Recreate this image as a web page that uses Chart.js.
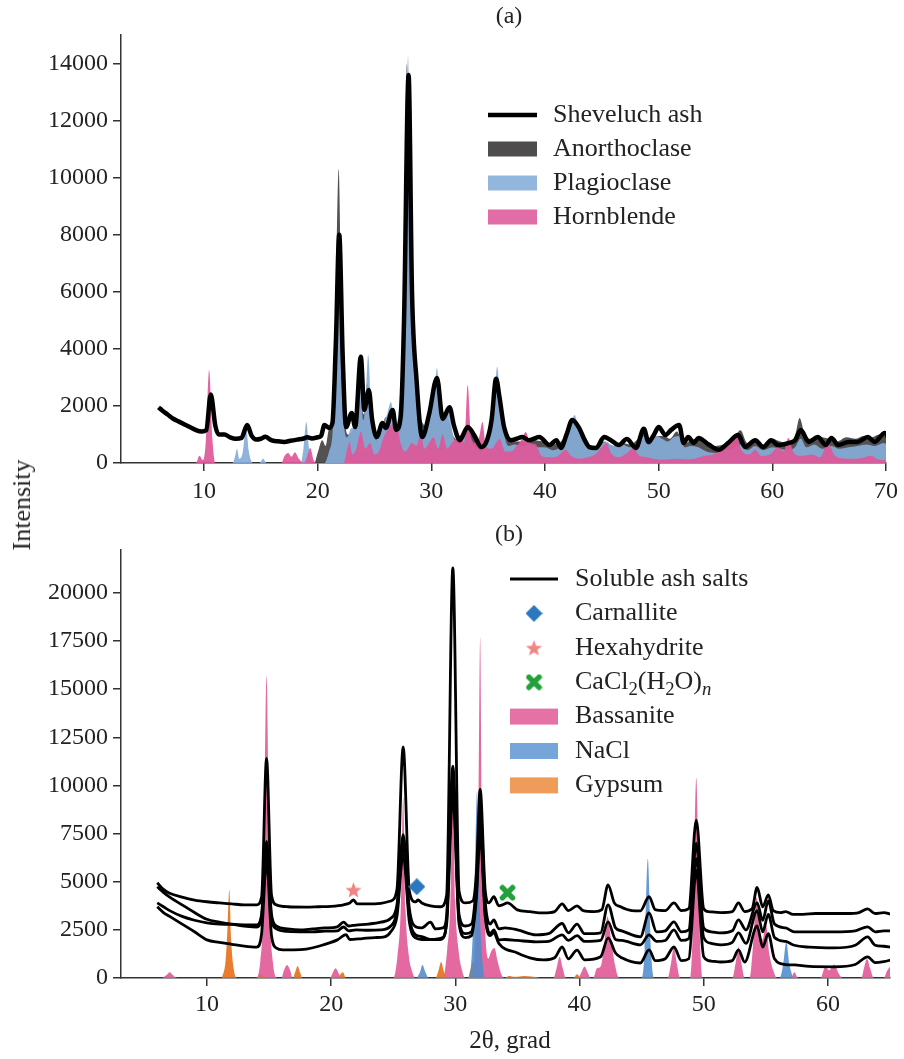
<!DOCTYPE html>
<html lang="en">
<head>
<meta charset="UTF-8">
<title>XRD patterns of Sheveluch ash and soluble salts</title>
<style>
    body {
        margin: 0;
        background: #fff;
        font-family: "Liberation Serif", "Times New Roman", serif;
    }
    .page {
        position: relative;
        width: 904px;
        height: 1059px;
    }
    canvas {
        position: absolute;
        left: 0;
    }
    #chartA { top: 0; }
    #chartB { top: 520px; }
    .lbl {
        position: absolute;
        color: #222;
        line-height: 1;
        white-space: nowrap;
        transform: translateX(-50%);
    }
    #titleA { left: 509px; top: 3px; font-size: 24px; }
    #titleB { left: 509px; top: 521px; font-size: 24px; }
    #xTitle { left: 510px; top: 1027px; font-size: 25px; }
    #yTitle { left: 22px; top: 505px; font-size: 26px; transform: translate(-50%, -50%) rotate(-90deg); }
</style>
</head>
<body>
<div class="page">
    <canvas id="chartA" width="904" height="520"></canvas>
    <canvas id="chartB" width="904" height="539"></canvas>
    <div class="lbl" id="titleA">(a)</div>
    <div class="lbl" id="titleB">(b)</div>
    <div class="lbl" id="xTitle">2θ, grad</div>
    <div class="lbl" id="yTitle">Intensity</div>
</div>

<script src="https://cdn.jsdelivr.net/npm/chart.js"></script>
<script>
// ---- tick labels ----
const thetaTicksA = [10, 20, 30, 40, 50, 60, 70];
const intensityTicksA = [0, 2000, 4000, 6000, 8000, 10000, 12000, 14000];
const thetaTicksB = [10, 20, 30, 40, 50, 60];
const intensityTicksB = [0, 2500, 5000, 7500, 10000, 12500, 15000, 17500, 20000];

// ---- panel (a): [2theta, intensity] ----
const ashPattern = [[6.0,1950],[6.3,1850],[6.8,1700],[7.3,1550],[7.8,1450],[8.3,1350],[8.8,1250],[9.3,1150],[9.8,1100],[10.2,1150],[10.6,2400],[11.0,1300],[11.3,1000],[11.8,1000],[12.3,900],[12.8,850],[13.3,880],[13.8,1330],[14.2,950],[14.6,820],[15.0,850],[15.4,920],[15.9,800],[16.5,760],[17.1,740],[17.6,780],[18.2,820],[18.7,850],[19.1,900],[19.5,860],[20.0,900],[20.3,950],[20.6,1330],[21.0,1230],[21.3,1400],[21.6,4200],[21.9,8000],[22.2,3800],[22.5,1260],[23.0,1750],[23.3,1260],[23.8,3720],[24.1,1860],[24.5,2560],[24.8,1500],[25.2,910],[25.7,1400],[26.0,1230],[26.6,1860],[26.9,1160],[27.3,1600],[27.6,5000],[28.0,13600],[28.3,6000],[28.7,2910],[29.2,910],[29.8,1700],[30.5,2980],[31.0,1550],[31.6,1950],[32.0,1300],[32.5,800],[33.2,1260],[33.8,950],[34.4,560],[34.9,800],[35.3,1500],[35.7,2950],[36.0,2300],[36.4,1260],[37.0,800],[37.5,850],[38.0,910],[38.6,800],[39.5,910],[40.4,630],[41.0,800],[41.4,530],[41.9,1000],[42.4,1510],[43.0,1230],[43.5,800],[43.9,560],[44.5,530],[45.2,910],[45.8,800],[46.5,630],[47.2,840],[48.0,530],[48.7,1200],[49.1,740],[49.6,1000],[50.0,1260],[50.6,980],[51.1,1160],[51.8,1330],[52.2,700],[52.6,910],[53.1,700],[53.5,880],[54.4,650],[55.3,460],[56.1,700],[57.0,980],[57.6,560],[58.5,800],[59.2,560],[59.9,800],[60.5,630],[61.4,700],[62.0,800],[62.5,1160],[63.2,740],[64.0,910],[64.7,630],[65.2,880],[65.8,630],[66.7,740],[67.5,740],[68.4,910],[69.0,740],[69.9,1050],[70.3,800]];

const anorthoclase = [[6.5,0],[19.7,0],[20.0,350],[20.4,800],[20.7,600],[21.0,1200],[21.3,1500],[21.55,5000],[21.85,10300],[22.15,4000],[22.4,1500],[22.7,1000],[23.0,1100],[23.3,1500],[23.6,2800],[23.85,2000],[24.1,1700],[24.35,2800],[24.6,1700],[24.9,1100],[25.3,800],[25.7,1300],[26.0,1600],[26.4,1500],[26.8,1000],[27.2,1500],[27.5,4000],[27.85,14000],[28.2,5000],[28.5,2800],[28.8,1800],[29.1,1500],[29.5,1300],[30.0,1600],[30.4,2600],[30.8,1700],[31.2,1800],[31.6,1400],[32.0,900],[32.5,800],[33.0,1000],[33.5,1100],[34.0,700],[34.5,650],[35.0,800],[35.5,1700],[35.8,2500],[36.1,1400],[36.5,1000],[37.0,750],[37.5,750],[38.2,750],[39.0,800],[39.8,750],[40.5,650],[41.2,700],[41.8,950],[42.3,1300],[42.7,1400],[43.2,950],[43.8,650],[44.5,550],[45.2,750],[46.0,600],[46.8,700],[47.5,650],[48.2,850],[48.6,1000],[49.2,750],[49.8,950],[50.5,950],[51.0,850],[51.6,1100],[52.2,650],[52.8,800],[53.5,850],[54.2,650],[55.0,600],[55.7,650],[56.5,800],[57.2,1150],[57.8,700],[58.5,800],[59.2,650],[60.0,850],[60.7,750],[61.4,700],[62.0,950],[62.4,1580],[62.9,950],[63.5,850],[64.2,900],[65.0,850],[65.7,750],[66.5,900],[67.3,850],[68.0,950],[68.7,900],[69.4,1000],[70.2,900]];

const plagioclase = [[6.5,0],[12.5,0],[12.75,250],[12.9,500],[13.1,150],[13.4,350],[13.7,1250],[13.95,400],[14.3,0],[14.9,0],[15.2,150],[15.5,0],[18.5,0],[18.75,500],[19.0,1440],[19.25,500],[19.6,0],[20.6,0],[21.0,400],[21.3,1000],[21.55,3000],[21.85,6500],[22.1,3000],[22.35,1200],[22.6,900],[22.9,1200],[23.2,1300],[23.5,1800],[23.75,2800],[24.0,1500],[24.2,2000],[24.45,3790],[24.7,1800],[24.95,1000],[25.2,800],[25.5,1200],[25.8,1400],[26.1,1700],[26.45,2140],[26.8,1200],[27.1,1700],[27.4,3500],[27.7,8000],[27.95,14250],[28.2,8000],[28.45,4000],[28.7,2500],[29.0,1300],[29.3,1200],[29.7,1600],[30.0,1900],[30.25,2400],[30.5,3330],[30.75,2000],[31.0,1500],[31.3,1800],[31.6,1700],[31.9,1000],[32.2,700],[32.6,700],[33.0,1000],[33.3,1000],[33.6,700],[34.0,500],[34.4,400],[34.8,700],[35.2,1100],[35.5,2000],[35.8,3370],[36.1,1800],[36.4,1000],[36.8,600],[37.3,650],[38.0,600],[38.6,650],[39.3,550],[40.0,550],[40.7,450],[41.3,550],[41.8,850],[42.2,1200],[42.6,1680],[43.0,1100],[43.5,650],[44.2,450],[44.8,550],[45.3,750],[46.0,600],[46.8,650],[47.5,550],[48.2,700],[48.7,950],[49.2,650],[49.8,950],[50.3,850],[50.8,750],[51.3,900],[51.8,950],[52.3,550],[52.8,600],[53.5,550],[54.2,400],[55.0,350],[55.8,450],[56.5,500],[57.2,650],[57.8,450],[58.5,600],[59.2,450],[60.0,550],[60.7,500],[61.4,450],[62.0,550],[62.5,850],[63.0,550],[63.7,650],[64.4,500],[65.2,600],[65.9,500],[66.7,550],[67.5,600],[68.3,650],[69.0,600],[69.8,700],[70.2,600]];

const hornblende = [[6.5,0],[9.3,0],[9.6,250],[9.9,100],[10.15,700],[10.45,3260],[10.75,800],[11.0,0],[16.8,0],[17.1,250],[17.4,350],[17.7,220],[18.0,380],[18.35,150],[18.8,0],[19.05,200],[19.35,530],[19.65,100],[20.0,0],[22.3,0],[22.55,400],[22.8,740],[23.05,300],[23.4,500],[23.8,1100],[24.2,500],[24.6,700],[25.0,300],[25.4,400],[25.8,900],[26.2,1200],[26.6,1350],[26.95,1400],[27.3,700],[27.7,400],[28.3,700],[28.7,600],[29.05,1050],[29.4,500],[29.8,700],[30.2,900],[30.6,500],[31.0,1000],[31.4,500],[31.8,700],[32.3,900],[32.6,1000],[32.9,700],[33.2,2740],[33.5,900],[33.9,700],[34.2,900],[34.5,1440],[34.8,600],[35.3,500],[35.7,700],[36.0,850],[36.5,400],[37.0,400],[37.5,600],[37.9,800],[38.3,1090],[38.7,700],[39.2,650],[39.6,300],[40.2,200],[40.8,200],[41.3,300],[41.8,460],[42.3,250],[43.0,150],[43.8,200],[44.4,300],[45.0,550],[45.4,700],[45.8,350],[46.5,200],[47.2,350],[47.8,530],[48.3,250],[49.0,200],[49.5,150],[50.5,120],[51.5,150],[52.5,130],[53.2,150],[54.0,250],[54.8,300],[55.5,450],[56.1,650],[56.8,980],[57.3,450],[58.0,300],[58.5,460],[59.0,250],[59.8,300],[60.5,550],[61.0,400],[61.4,880],[61.9,350],[62.5,250],[63.5,300],[64.2,200],[64.9,700],[65.5,250],[66.5,150],[67.5,150],[68.7,250],[69.3,120],[70.2,100]];

// ---- panel (b): four scans of soluble ash salts ----
const saltsScan1 = [[6.0,4950],[6.5,4600],[7,4400],[8,4200],[9,4050],[10,3960],[11,3900],[12,3850],[13,3800],[14,3800],[14.4,4200],[14.8,11400],[15.2,4300],[15.6,3800],[16.5,3700],[18,3680],[19,3700],[20,3720],[21,3800],[21.5,3900],[21.8,4050],[22.1,3850],[23,3850],[24,3880],[24.8,4000],[25.3,4600],[25.8,12000],[26.3,4500],[26.8,3950],[27.0,4050],[27.3,3900],[28.0,3750],[28.8,3700],[29.3,4300],[29.8,21300],[30.3,4500],[30.8,3900],[31.4,4000],[31.7,5500],[32.0,9800],[32.4,4600],[32.7,3900],[33.1,4220],[33.5,3750],[33.8,3800],[34.2,3900],[35.0,3540],[36,3450],[37.1,3380],[38.0,3450],[38.6,3850],[39.1,3500],[39.8,3750],[40.3,3500],[41.2,3450],[41.8,3550],[42.3,4840],[42.8,3900],[43.3,3700],[44.2,3500],[44.9,3490],[45.6,4220],[46.1,3550],[46.9,3500],[47.6,3900],[48.2,3500],[48.8,3600],[49.4,8200],[50.0,3600],[50.4,3450],[51.4,3400],[52.3,3450],[52.8,3900],[53.3,3450],[53.9,3600],[54.3,4700],[54.75,3700],[55.2,4320],[55.6,3500],[56.2,3400],[56.6,3450],[57.2,3300],[58,3300],[59,3350],[60.5,3350],[61.5,3350],[62.5,3400],[63.2,3590],[63.8,3350],[64.5,3400],[65.1,3300]];

const saltsScan2 = [[6.0,4740],[6.5,4450],[7,4200],[8,3800],[9,3400],[10,3050],[11,2900],[12,2800],[13,2760],[14,2760],[14.4,3300],[14.8,7100],[15.2,3300],[15.6,2700],[16.5,2550],[17.5,2500],[18.5,2550],[19.5,2600],[20.5,2660],[21.0,2900],[21.4,2700],[22,2750],[23,2800],[24,2900],[24.8,3100],[25.3,3800],[25.8,7440],[26.3,3600],[26.8,2660],[27.3,2600],[28.0,2900],[28.4,2550],[29.0,2600],[29.3,3200],[29.8,11000],[30.3,3300],[30.8,2700],[31.3,2800],[31.7,5000],[32.0,8800],[32.4,4000],[32.8,2800],[33.1,3020],[33.5,2550],[34.0,2600],[35,2500],[36.5,2240],[37.5,2300],[38.6,2830],[39.1,2350],[39.8,2800],[40.4,2300],[41.7,2350],[42.3,3800],[42.9,2600],[43.4,2450],[44.9,2140],[45.6,3380],[46.2,2400],[46.9,2450],[47.6,2920],[48.2,2400],[48.8,2500],[49.4,7000],[50.0,2600],[50.6,2400],[51.4,2340],[52.3,2450],[52.8,3020],[53.4,2500],[54.3,3900],[54.75,3000],[55.2,4000],[55.7,2800],[56.6,2600],[57.3,2400],[58.5,2400],[60.5,2400],[62.2,2450],[63.2,2660],[63.8,2400],[64.5,2450],[65.1,2450]];

const saltsScan3 = [[6.0,3900],[6.5,3700],[7,3500],[8,3200],[9,3000],[10,2860],[11,2800],[12,2780],[13,2700],[14,2650],[14.4,3200],[14.8,6600],[15.2,3100],[15.6,2550],[16.5,2420],[17.5,2400],[18.5,2400],[19.5,2430],[20.5,2450],[21.0,2650],[21.4,2450],[22,2500],[23,2480],[24,2500],[24.8,2700],[25.3,3500],[25.8,6900],[26.3,3200],[26.8,2240],[27.3,2150],[28.0,2000],[29.0,2100],[29.3,3000],[29.8,10200],[30.3,3000],[30.8,2300],[31.3,2400],[31.7,4500],[32.0,8000],[32.4,3500],[32.8,2300],[33.1,2500],[33.5,1980],[34.0,2000],[35,1950],[36.5,1880],[37.5,1900],[38.6,2240],[39.1,1950],[39.8,2200],[40.4,1900],[41.7,1950],[42.3,2920],[42.9,2000],[43.4,1950],[44.9,1720],[45.6,2240],[46.2,1900],[46.9,1950],[47.6,2500],[48.2,1950],[48.8,2050],[49.4,6200],[50.0,2100],[50.6,1800],[51.4,1720],[52.3,1850],[52.8,2340],[53.4,1800],[54.3,3500],[54.75,2400],[55.2,3300],[55.7,2100],[56.6,1900],[57.3,1700],[58.5,1600],[60.5,1560],[62.2,1700],[63.2,2140],[63.8,1700],[64.5,1650],[65.1,1600]];

const saltsScan4 = [[6.0,3700],[6.5,3400],[7,3200],[8,2800],[9,2400],[10,1980],[11,1850],[12,1750],[13,1650],[14,1600],[14.4,2300],[14.8,6100],[15.2,2200],[15.6,1550],[16.1,1460],[17,1460],[18,1500],[19,1650],[20.5,1980],[21.2,2250],[21.5,2000],[22.5,2050],[23.5,2100],[24.3,2140],[24.8,2400],[25.3,3200],[25.8,6400],[26.3,2900],[26.8,2080],[27.3,2000],[28.8,2000],[29.3,2800],[29.8,9500],[30.3,2800],[30.8,2100],[31.3,2200],[31.7,4200],[32.0,7500],[32.4,3200],[32.8,2200],[33.1,2360],[33.5,1800],[35.0,1300],[36.0,1050],[37.1,940],[38.0,1050],[38.6,1610],[39.1,1000],[39.8,1450],[40.4,940],[41.7,1100],[42.3,2080],[42.9,1300],[43.4,1050],[44.9,780],[45.6,1460],[46.1,900],[46.9,1000],[47.6,1610],[48.2,900],[48.8,1000],[49.4,5600],[50.0,1100],[50.6,880],[51.4,830],[52.3,900],[52.8,1460],[53.3,830],[54.3,2700],[54.75,1600],[55.2,2300],[55.7,1000],[56.6,700],[57.3,680],[58.5,600],[60.5,580],[62.2,700],[63.2,1100],[63.8,800],[64.5,850],[65.1,940]];

const bassanite = [[6.4,0],[6.75,150],[7.0,300],[7.25,150],[7.6,0],[13.9,0],[14.3,900],[14.55,4000],[14.8,15700],[15.05,4000],[15.3,900],[15.7,0],[16.0,0],[16.2,400],[16.45,680],[16.7,400],[16.9,0],[19.9,0],[20.15,300],[20.35,500],[20.6,250],[20.8,0],[25.0,0],[25.35,1200],[25.6,3500],[25.8,9400],[26.0,3500],[26.25,1200],[26.45,500],[26.8,0],[29.0,0],[29.35,1500],[29.6,4000],[29.8,11000],[30.0,4000],[30.25,1500],[30.5,500],[30.8,0],[31.4,0],[31.65,3000],[31.85,8000],[32.0,17700],[32.15,8000],[32.4,2500],[32.65,1000],[32.9,1400],[33.15,1560],[33.4,900],[33.7,200],[34.0,0],[37.9,0],[38.15,500],[38.4,1100],[38.65,500],[38.9,0],[39.9,0],[40.15,300],[40.4,600],[40.65,300],[40.9,0],[41.1,0],[41.4,500],[41.7,600],[41.95,1500],[42.25,3200],[42.55,2000],[42.85,700],[43.2,0],[47.1,0],[47.35,700],[47.6,1600],[47.85,700],[48.1,0],[48.9,0],[49.15,3000],[49.4,10400],[49.65,3000],[49.9,0],[52.3,0],[52.55,700],[52.8,1600],[53.05,700],[53.3,0],[53.7,0],[53.95,1500],[54.25,4200],[54.55,2200],[54.75,2000],[55.0,2800],[55.3,1200],[55.6,400],[55.9,0],[57.0,0],[57.3,300],[57.6,0],[59.4,0],[59.8,600],[60.1,400],[60.5,700],[60.9,200],[61.2,0],[62.7,0],[62.9,500],[63.15,1000],[63.4,500],[63.7,0],[64.5,0],[64.75,350],[65.0,600]];

const nacl = [[26.9,0],[27.15,300],[27.35,680],[27.6,300],[27.85,0],[31.1,0],[31.35,1500],[31.55,5000],[31.75,9700],[31.95,4000],[32.2,800],[32.4,0],[45.0,0],[45.25,1500],[45.5,6200],[45.75,1500],[46.0,0],[56.1,0],[56.4,700],[56.65,1880],[56.9,700],[57.2,0]];

const gypsum = [[11.2,0],[11.5,900],[11.65,2500],[11.8,4580],[11.95,2000],[12.15,500],[12.4,0],[14.1,0],[14.35,200],[14.6,0],[16.9,0],[17.1,300],[17.3,625],[17.5,300],[17.7,0],[20.5,0],[20.75,200],[20.95,300],[21.2,0],[28.4,0],[28.65,400],[28.85,830],[29.1,300],[29.3,0],[31.0,0],[31.2,400],[31.4,830],[31.65,300],[31.85,0],[34.0,0],[34.3,100],[34.8,60],[35.5,110],[36.3,70],[37.0,0],[39.5,0],[39.8,200],[40.1,0]];

const carnallite = [[26.9, 4740]];
const hexahydrite = [[21.8, 4580]];
const cacl2 = [[34.2, 4430]];

// ---- helpers ----
const FONT = '"Liberation Serif", "Times New Roman", serif';
const pts = arr => arr.map(([x, y]) => ({ x, y }));

function makeStar(size, color) {
    const c = document.createElement('canvas');
    c.width = size; c.height = size;
    const g = c.getContext('2d');
    g.fillStyle = color;
    g.beginPath();
    for (let i = 0; i < 10; i++) {
        const r = i % 2 ? size * 0.21 : size * 0.5;
        const a = -Math.PI / 2 + i * Math.PI / 5;
        g.lineTo(size / 2 + r * Math.cos(a), size * 0.55 + r * Math.sin(a));
    }
    g.closePath();
    g.fill();
    return c;
}

function makeCross(size, color) {
    const c = document.createElement('canvas');
    c.width = size; c.height = size;
    const g = c.getContext('2d');
    g.strokeStyle = color;
    g.lineWidth = size * 0.32;
    g.lineCap = 'round';
    const m = size * 0.2;
    g.beginPath();
    g.moveTo(m, m); g.lineTo(size - m, size - m);
    g.moveTo(size - m, m); g.lineTo(m, size - m);
    g.stroke();
    return c;
}

function makeDiamond(size, color) {
    const c = document.createElement('canvas');
    c.width = size; c.height = size;
    const g = c.getContext('2d');
    g.fillStyle = color;
    g.beginPath();
    g.moveTo(size / 2, 0); g.lineTo(size, size / 2);
    g.lineTo(size / 2, size); g.lineTo(0, size / 2);
    g.closePath();
    g.fill();
    return c;
}

const diamondImg = makeDiamond(17, '#2b78be');
const starImg = makeStar(17, '#f08585');
const crossImg = makeCross(17, '#23a03a');

// draws text parts, some of them as subscripts
function drawRich(ctx, parts, x, y, size) {
    let cx = x;
    parts.forEach(p => {
        const s = p.sub ? size * 0.72 : size;
        ctx.font = (p.italic ? 'italic ' : '') + s + 'px ' + FONT;
        ctx.fillText(p.t, cx, y + (p.sub ? size * 0.3 : 0));
        cx += ctx.measureText(p.t).width;
    });
}

// legend drawn inside the plot area
const insideLegend = {
    id: 'insideLegend',
    afterDraw(chart, args, o) {
        const ctx = chart.ctx;
        ctx.save();
        ctx.textBaseline = 'middle';
        o.items.forEach((it, i) => {
            const y = o.y + i * o.gap;
            if (it.kind === 'line') {
                ctx.strokeStyle = it.color;
                ctx.lineWidth = it.width;
                ctx.beginPath();
                ctx.moveTo(o.x, y);
                ctx.lineTo(o.x + o.w, y);
                ctx.stroke();
            } else if (it.kind === 'box') {
                ctx.fillStyle = it.color;
                ctx.fillRect(o.x, y - o.boxH / 2, o.w, o.boxH);
            } else {
                ctx.drawImage(it.img, o.x + o.w / 2 - it.img.width / 2, y - it.img.height / 2);
            }
            ctx.fillStyle = '#222';
            const parts = typeof it.text === 'string' ? [{ t: it.text }] : it.text;
            drawRich(ctx, parts, o.x + o.w + o.textGap, y, o.size);
        });
        ctx.restore();
    }
};

function axisX(min, max, ticks, height, pad) {
    return {
        type: 'linear', min, max,
        afterBuildTicks: s => { s.ticks = ticks.map(v => ({ value: v })); },
        afterFit: s => { s.height = height; },
        grid: { display: true, drawOnChartArea: false, drawTicks: true, tickLength: 8, color: '#333', lineWidth: 1.5 },
        border: { display: true, color: '#333', width: 1.5 },
        ticks: { color: '#222', font: { family: FONT, size: 24 }, padding: pad, maxRotation: 0, autoSkip: false, callback: v => String(v) }
    };
}

function axisY(min, max, ticks) {
    return {
        type: 'linear', min, max,
        afterBuildTicks: s => { s.ticks = ticks.map(v => ({ value: v })); },
        afterFit: s => { s.width = 121; },
        grid: { display: true, drawOnChartArea: false, drawTicks: true, tickLength: 8, color: '#333', lineWidth: 1.5 },
        border: { display: true, color: '#333', width: 1.5 },
        ticks: { color: '#222', font: { family: FONT, size: 24 }, padding: 5, autoSkip: false, callback: v => String(v) }
    };
}

function fillSet(label, data, color) {
    return {
        label, data: pts(data), backgroundColor: color, borderWidth: 0,
        fill: 'origin', pointRadius: 0, cubicInterpolationMode: 'monotone'
    };
}

function lineSet(label, data, width) {
    return {
        label, data: pts(data), borderColor: '#000', borderWidth: width,
        fill: false, pointRadius: 0, cubicInterpolationMode: 'monotone'
    };
}

function markerSet(label, data, img) {
    return {
        label, data: pts(data), showLine: false, pointStyle: img,
        pointRadius: 8, pointHoverRadius: 8
    };
}

const baseOptions = {
    responsive: false,
    animation: false,
    events: [],
    plugins: { legend: { display: false }, tooltip: { enabled: false } }
};

// ---- colours ----
const cAnorthoclase = 'rgba(68, 66, 66, 0.92)';
const cPlagioclase = 'rgba(135, 172, 216, 0.92)';
const cHornblende = 'rgba(222, 88, 152, 0.92)';
const cBassanite = 'rgba(226, 92, 152, 0.92)';
const cNaCl = 'rgba(78, 140, 205, 0.88)';
const cGypsum = 'rgba(230, 112, 22, 0.9)';

// ---- panel (a) ----
new Chart(document.getElementById('chartA'), {
    type: 'line',
    data: {
        datasets: [
            lineSet('Sheveluch ash', ashPattern, 4.5),
            fillSet('Hornblende', hornblende, cHornblende),
            fillSet('Plagioclase', plagioclase, cPlagioclase),
            fillSet('Anorthoclase', anorthoclase, cAnorthoclase)
        ]
    },
    options: {
        ...baseOptions,
        layout: { padding: { top: 35, right: 16, left: 0, bottom: 0 } },
        scales: {
            x: axisX(2.7, 70, thetaTicksA, 57, 6),
            y: axisY(0, 15000, intensityTicksA)
        },
        plugins: {
            ...baseOptions.plugins,
            insideLegend: {
                x: 488, y: 115, gap: 34, w: 49, boxH: 15, textGap: 16, size: 26,
                items: [
                    { kind: 'line', color: '#000', width: 4.5, text: 'Sheveluch ash' },
                    { kind: 'box', color: 'rgba(68, 66, 66, 0.95)', text: 'Anorthoclase' },
                    { kind: 'box', color: 'rgba(140, 178, 218, 0.95)', text: 'Plagioclase' },
                    { kind: 'box', color: 'rgba(224, 100, 160, 0.95)', text: 'Hornblende' }
                ]
            }
        }
    },
    plugins: [insideLegend]
});

// ---- panel (b) ----
new Chart(document.getElementById('chartB'), {
    type: 'line',
    data: {
        datasets: [
            markerSet('Carnallite', carnallite, diamondImg),
            markerSet('Hexahydrite', hexahydrite, starImg),
            markerSet('CaCl2(H2O)n', cacl2, crossImg),
            lineSet('Soluble ash salts 1', saltsScan1, 2.8),
            lineSet('Soluble ash salts 2', saltsScan2, 2.8),
            lineSet('Soluble ash salts 3', saltsScan3, 2.8),
            lineSet('Soluble ash salts 4', saltsScan4, 2.8),
            fillSet('NaCl', nacl, cNaCl),
            fillSet('Gypsum', gypsum, cGypsum),
            fillSet('Bassanite', bassanite, cBassanite)
        ]
    },
    options: {
        ...baseOptions,
        layout: { padding: { top: 30, right: 14, left: 0, bottom: 0 } },
        scales: {
            x: axisX(3.08, 65, thetaTicksB, 81, 4),
            y: axisY(0, 22230, intensityTicksB)
        },
        plugins: {
            ...baseOptions.plugins,
            insideLegend: {
                x: 510, y: 59, gap: 34.4, w: 48, boxH: 16, textGap: 17, size: 26,
                items: [
                    { kind: 'line', color: '#000', width: 3, text: 'Soluble ash salts' },
                    { kind: 'img', img: diamondImg, text: 'Carnallite' },
                    { kind: 'img', img: starImg, text: 'Hexahydrite' },
                    { kind: 'img', img: crossImg, text: [{ t: 'CaCl' }, { t: '2', sub: true }, { t: '(H' }, { t: '2', sub: true }, { t: 'O)' }, { t: 'n', sub: true, italic: true }] },
                    { kind: 'box', color: 'rgba(228, 105, 160, 0.95)', text: 'Bassanite' },
                    { kind: 'box', color: 'rgba(110, 160, 215, 0.95)', text: 'NaCl' },
                    { kind: 'box', color: 'rgba(238, 150, 80, 0.95)', text: 'Gypsum' }
                ]
            }
        }
    },
    plugins: [insideLegend]
});
</script>
</body>
</html>
